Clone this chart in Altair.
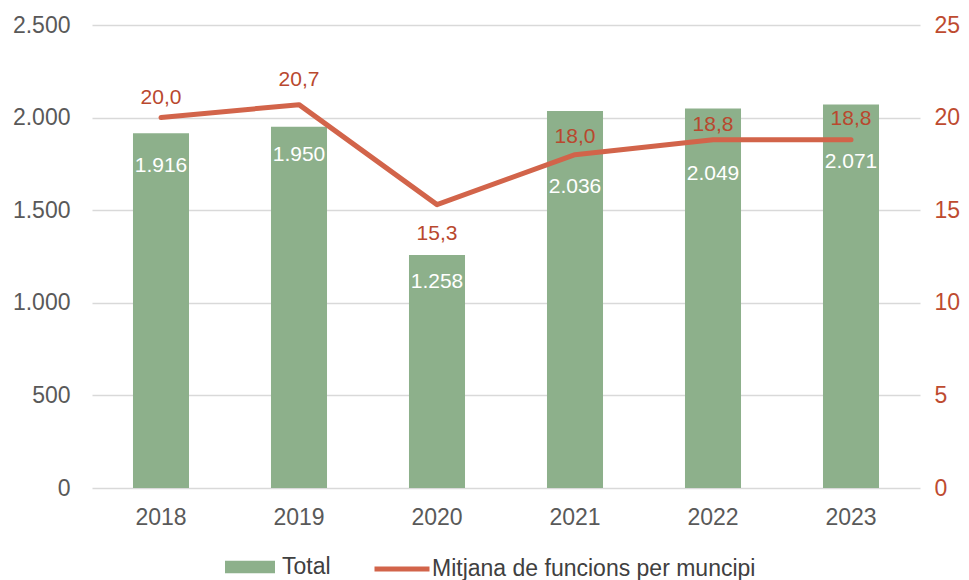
import altair as alt
import pandas as pd

years = ["2018", "2019", "2020", "2021", "2022", "2023"]
totals = [1916, 1950, 1258, 2036, 2049, 2071]
mitjana = [20.0, 20.7, 15.3, 18.0, 18.8, 18.8]

df = pd.DataFrame({"year": years, "total": totals, "mitjana": mitjana})

GREEN = "#8DB08B"
RED = "#D2644A"
RED_TXT = "#B9482E"
AX = "#595959"
FONT = "Liberation Sans"

# label placement offsets (style only)
bar_lab_dy = {"2018": 33, "2019": 28, "2020": 27, "2021": 76, "2022": 65, "2023": 58}
line_lab_dy = {"2018": -20, "2019": -25, "2020": 29, "2021": -18, "2022": -15, "2023": -21}

xenc = alt.X(
    "year:N",
    sort=years,
    scale=alt.Scale(paddingInner=0.594, paddingOuter=0.297),
    axis=alt.Axis(title=None, labelAngle=0, labelFontSize=23, labelColor=AX,
                  labelPadding=18, domain=False, ticks=False, grid=False),
)

left_axis = alt.Axis(title=None, values=[0, 500, 1000, 1500, 2000, 2500],
                     labelExpr="replace(format(datum.value, ',.0f'), ',', '.')",
                     labelFontSize=23, labelColor=AX, labelPadding=22,
                     domain=False, ticks=False, grid=True,
                     gridColor="#D9D9D9", gridWidth=1.3)
right_axis = alt.Axis(title=None, orient="right", values=[0, 5, 10, 15, 20, 25],
                      labelFontSize=23, labelColor="#BE4B30", labelPadding=14,
                      domain=False, ticks=False, grid=False)

yleft = alt.Y("total:Q", scale=alt.Scale(domain=[0, 2500]), axis=left_axis)
yright = alt.Y("mitjana:Q", scale=alt.Scale(domain=[0, 25]), axis=right_axis)

base = alt.Chart(df).encode(x=xenc)

bars = base.mark_bar(color=GREEN).transform_calculate(serie="'Total'").encode(
    y=yleft,
    color=alt.Color("serie:N", scale=alt.Scale(domain=["Total"], range=[GREEN]),
                    legend=alt.Legend(title=None, orient="none", legendX=133, legendY=517,
                                      symbolType="M-1,-0.25H1V0.25H-1Z", symbolSize=2500,
                                      symbolStrokeWidth=0, symbolFillColor=GREEN,
                                      symbolOpacity=1, labelOffset=7, padding=0,
                                      labelFontSize=23, labelColor="#404040", labelLimit=600)),
)

bar_labels = []
for y, d in bar_lab_dy.items():
    bar_labels.append(
        base.transform_filter(f"datum.year == '{y}'")
        .transform_calculate(lab="replace(format(datum.total, ',.0f'), ',', '.')")
        .mark_text(color="white", fontSize=21, baseline="middle", dy=d)
        .encode(y=yleft, text="lab:N")
    )

line = base.mark_line(strokeWidth=5, strokeCap="round", strokeJoin="round").transform_calculate(
    serie2="'Mitjana de funcions per muncipi'"
).encode(
    y=yright,
    stroke=alt.Stroke("serie2:N",
                      scale=alt.Scale(domain=["Mitjana de funcions per muncipi"], range=[RED]),
                      legend=alt.Legend(title=None, orient="none", legendX=280, legendY=514,
                                        symbolType="stroke", symbolSize=3025,
                                        symbolStrokeWidth=5, labelOffset=0, padding=0,
                                        labelFontSize=23, labelColor="#404040", labelLimit=600)),
)

line_labels = []
for y, d in line_lab_dy.items():
    line_labels.append(
        base.transform_filter(f"datum.year == '{y}'")
        .transform_calculate(lab="replace(format(datum.mitjana, '.1f'), '.', ',')")
        .mark_text(color=RED_TXT, fontSize=21, baseline="middle", dy=d)
        .encode(y=yright, text="lab:N")
    )

left = alt.layer(bars, *bar_labels)
right = alt.layer(line, *line_labels)

chart = (
    alt.layer(left, right)
    .resolve_scale(y="independent")
    .properties(width=828, height=463, padding={"left": 4, "top": 6, "right": 0, "bottom": 0})
    .configure(font=FONT)
    .configure_view(stroke=None)
)

chart.save("out.html", embed_options={"renderer": "svg", "actions": False})
